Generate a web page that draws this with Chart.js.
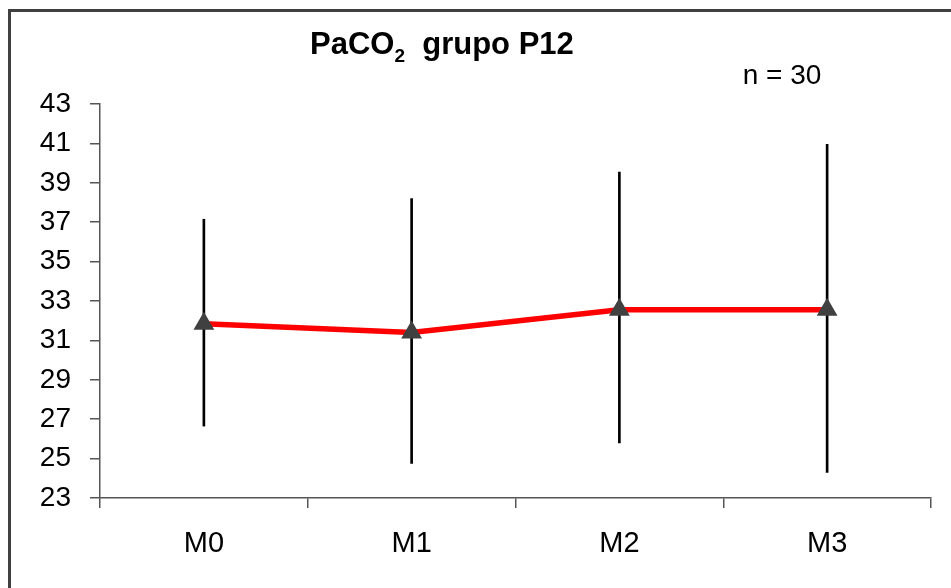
<!DOCTYPE html>
<html>
<head>
<meta charset="utf-8">
<script src="https://cdn.jsdelivr.net/npm/chart.js@4.4.1/dist/chart.umd.min.js"></script>
<style>
  html, body { margin: 0; padding: 0; background: #ffffff; }
  #wrap { position: relative; width: 951px; height: 588px; overflow: hidden; }
  #frame { position: absolute; left: 8px; top: 9px; width: 960px; height: 600px;
           border-left: 3px solid #404040; border-top: 3px solid #404040; pointer-events: none; }
  canvas { position: absolute; left: 0; top: 0; }
</style>
</head>
<body>
<div id="wrap">
  <canvas id="c" width="951" height="588"></canvas>
  <div id="frame"></div>
</div>
<script>
// ---- data ----
const categories = ["M0", "M1", "M2", "M3"];
const means      = [31.85, 31.4, 32.55, 32.55];
const errLow     = [26.65, 24.75, 25.8, 24.3];
const errHigh    = [37.15, 38.2, 39.55, 40.95];
const yTicks     = [23, 25, 27, 29, 31, 33, 35, 37, 39, 41, 43];
const titleMain  = "PaCO";
const titleSub   = "2";
const titleRest  = "  grupo P12";
const nLabel     = "n = 30";

const FONT = "'Liberation Sans', Arial, sans-serif";

const textPlugin = {
  id: 'textPlugin',
  afterDraw(chart) {
    const ctx = chart.ctx;
    ctx.save();
    ctx.fillStyle = '#000';
    ctx.textBaseline = 'alphabetic';
    ctx.textAlign = 'left';
    let x = 310;
    const base = 54;
    ctx.font = "bold 31px " + FONT;
    ctx.fillText(titleMain, x, base);
    x += ctx.measureText(titleMain).width;
    ctx.font = "bold 19px " + FONT;
    ctx.fillText(titleSub, x, base + 8);
    x += ctx.measureText(titleSub).width;
    ctx.font = "bold 31px " + FONT;
    ctx.fillText(titleRest, x, base);
    ctx.font = "28px " + FONT;
    ctx.textAlign = 'center';
    ctx.fillText(nLabel, 782, 84);
    ctx.restore();
  }
};

new Chart(document.getElementById('c'), {
  type: 'bar',
  data: {
    labels: categories,
    datasets: [
      {
        type: 'line',
        data: means,
        borderColor: '#ff0000',
        borderWidth: 5.5,
        tension: 0,
        pointStyle: 'triangle',
        pointRadius: 12,
        pointHoverRadius: 12,
        pointBackgroundColor: '#404040',
        pointBorderColor: '#404040',
        pointBorderWidth: 0,
        order: 0
      },
      {
        type: 'bar',
        data: categories.map((c, i) => [errLow[i], errHigh[i]]),
        backgroundColor: '#000000',
        borderWidth: 0,
        barThickness: 2,
        order: 1
      }
    ]
  },
  options: {
    responsive: false,
    animation: false,
    layout: { padding: { top: 104, right: 20, left: 0, bottom: 0 } },
    plugins: { legend: { display: false }, tooltip: { enabled: false }, title: { display: false } },
    scales: {
      x: {
        type: 'category',
        offset: true,
        grid: { display: true, offset: true, drawOnChartArea: false, drawTicks: true, tickLength: 10, color: '#555555', lineWidth: 1.5 },
        border: { display: true, color: '#555555', width: 1.5 },
        ticks: { color: '#000', font: { family: FONT, size: 29 }, padding: 19, maxRotation: 0 },
        afterFit(scale) { scale.height = 90; }
      },
      y: {
        min: 23, max: 43,
        afterBuildTicks(scale) { scale.ticks = yTicks.map(v => ({ value: v })); },
        grid: { display: true, drawOnChartArea: false, drawTicks: true, tickLength: 10, color: '#555555', lineWidth: 1.5 },
        border: { display: true, color: '#555555', width: 1.5 },
        ticks: { color: '#000', font: { family: FONT, size: 28 }, padding: 19 },
        afterFit(scale) { scale.width = 100; }
      }
    }
  },
  plugins: [textPlugin]
});
</script>
</body>
</html>
